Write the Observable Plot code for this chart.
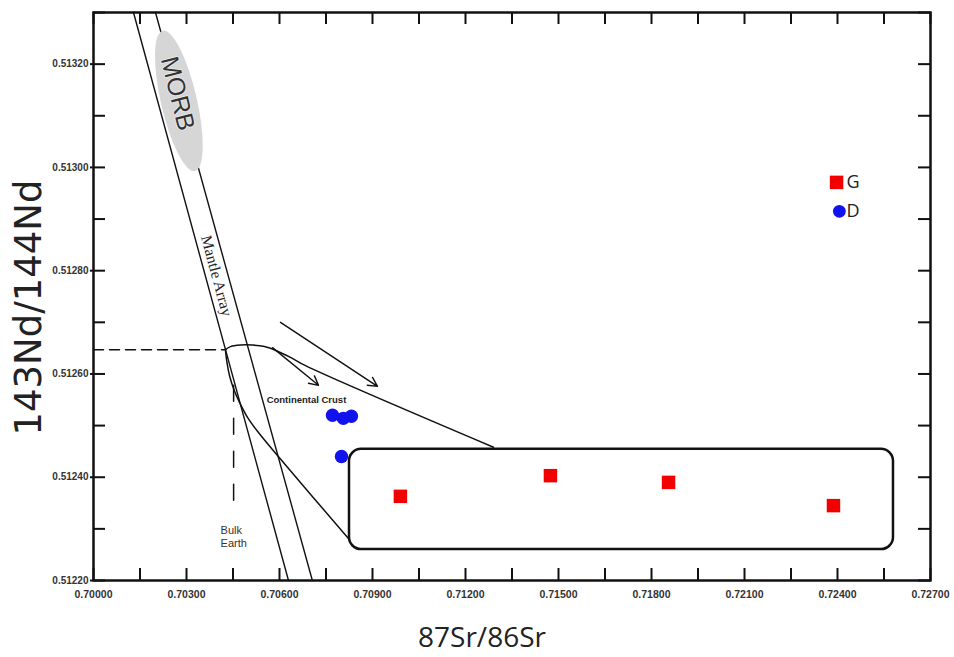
<!DOCTYPE html>
<html>
<head>
<meta charset="utf-8">
<script src="https://cdn.jsdelivr.net/npm/d3@7"></script>
<script src="https://cdn.jsdelivr.net/npm/@observablehq/plot@0.6"></script>
<style>
  html, body { margin: 0; padding: 0; background: #fff; }
  #chart { width: 954px; height: 657px; }
</style>
</head>
<body>
<div id="chart"></div>
<script>
// ---- Data ----
// G samples (red squares): 87Sr/86Sr and 143Nd/144Nd
const gSr = [0.70990, 0.71474, 0.71855, 0.72387];
const gNd = [0.512363, 0.512403, 0.512390, 0.512345];
// D samples (blue circles)
const dSr = [0.70771, 0.70806, 0.70832, 0.70800];
const dNd = [0.512520, 0.512514, 0.512518, 0.512440];

// Tick values
const xTicksLabeled = [0.700, 0.703, 0.706, 0.709, 0.712, 0.715, 0.718, 0.721, 0.724, 0.727];
const xTicksMinor = [0.7015, 0.7045, 0.7075, 0.7105, 0.7135, 0.7165, 0.7195, 0.7225, 0.7255];
const yTicksLabeled = [0.5122, 0.5124, 0.5126, 0.5128, 0.5130, 0.5132];
const yTicksMinor = [0.5123, 0.5125, 0.5127, 0.5129, 0.5131, 0.5133];

// Diagram annotations (data coordinates)
const mantleLeftSr = [0.70129, 0.70629];
const mantleLeftNd = [0.5133, 0.5122];
const mantleRightSr = [0.70200, 0.70706];
const mantleRightNd = [0.5133, 0.5122];
const morbCenter = [0.70277, 0.513128];
const morbLabelPos = [0.70271, 0.513143];
const mantleLabelPos = [0.70397, 0.512790];
const bulkEarthNdLineSr = [0.7000, 0.70426];
const bulkEarthNdLineNd = [0.512647, 0.512647];
const bulkEarthSrLineSr = [0.70452, 0.70452];
const bulkEarthSrLineNd = [0.512578, 0.51233];
const upperSr = [0.704258, 0.704419, 0.704742, 0.705129, 0.705516, 0.705903, 0.706355, 0.706839, 0.712903];
const upperNd = [0.512647, 0.512653, 0.512656, 0.512656, 0.512653, 0.512645, 0.512632, 0.512616, 0.512458];
const lowerSr = [0.704258, 0.704306, 0.704387, 0.704516, 0.704710, 0.704968, 0.705290, 0.705935, 0.708258];
const lowerNd = [0.512645, 0.512622, 0.512597, 0.512572, 0.512545, 0.512516, 0.512489, 0.512442, 0.512279];
const arrowSr1 = [0.705774, 0.706032];
const arrowNd1 = [0.512651, 0.512700];
const arrowSr2 = [0.707258, 0.709161];
const arrowNd2 = [0.512578, 0.512576];
const boxSr = [0.708258, 0.725806];
const boxNd = [0.512260, 0.512454];
const crustLabelPos = [0.70687, 0.512549];
const bulkLabelPos = [0.7041, 0.512308];
const legendNames = ["G", "D"];
const legendSr = [0.72397, 0.72406];
const legendNd = [0.512971, 0.512915];
const legendTextSr = 0.72429;

// ---- Build tables ----
const pairs = (xs, ys) => xs.map((x, i) => [x, ys[i]]);
const gPts = pairs(gSr, gNd);
const dPts = pairs(dSr, dNd);
const arrows = arrowSr1.map((s, i) => ({x1: s, y1: arrowNd1[i], x2: arrowSr2[i], y2: arrowNd2[i]}));

const W = 954, H = 657, mt = 12, mr = 24, mb = 77, ml = 93;
const pw = W - ml - mr, ph = H - mt - mb;
const ink = "#111";

const morbEllipse = (index, scales) => {
  const cx = scales.x(morbCenter[0]), cy = scales.y(morbCenter[1]);
  return d3.create("svg:ellipse")
    .attr("cx", cx).attr("cy", cy)
    .attr("rx", 18).attr("ry", 72)
    .attr("transform", `rotate(-13 ${cx} ${cy})`)
    .attr("fill", "#d6d6d6")
    .node();
};

const chart = Plot.plot({
  width: W, height: H,
  marginTop: mt, marginRight: mr, marginBottom: mb, marginLeft: ml,
  x: {domain: [0.700, 0.727]},
  y: {domain: [0.5122, 0.5133]},
  style: {fontFamily: "'Liberation Sans', Arial, sans-serif", background: "#fff", overflow: "visible"},
  marks: [
    // Mantle array
    Plot.line(pairs(mantleLeftSr, mantleLeftNd), {stroke: ink, strokeWidth: 1.4}),
    Plot.line(pairs(mantleRightSr, mantleRightNd), {stroke: ink, strokeWidth: 1.4}),
    morbEllipse,
    Plot.text(["MORB"], {x: morbLabelPos[0], y: morbLabelPos[1], text: d => d, rotate: 76, fontSize: 25, fill: "#333", stroke: "#eee", strokeWidth: 1.5, paintOrder: "stroke"}),
    Plot.text(["Mantle Array"], {x: mantleLabelPos[0], y: mantleLabelPos[1], text: d => d, rotate: 75, fontSize: 15.5, fontFamily: "'Liberation Serif', 'DejaVu Serif', serif", fill: "#222"}),
    // Bulk Earth dashed lines
    Plot.line(pairs(bulkEarthNdLineSr, bulkEarthNdLineNd), {stroke: ink, strokeWidth: 1.5, strokeDasharray: "10,6"}),
    Plot.line(pairs(bulkEarthSrLineSr, bulkEarthSrLineNd), {stroke: ink, strokeWidth: 1.5, strokeDasharray: "16,17"}),
    // Continental crust field
    Plot.line(pairs(upperSr, upperNd), {stroke: ink, strokeWidth: 1.5, curve: "catmull-rom"}),
    Plot.line(pairs(lowerSr, lowerNd), {stroke: ink, strokeWidth: 1.5, curve: "catmull-rom"}),
    Plot.arrow(arrows, {x1: "x1", y1: "y1", x2: "x2", y2: "y2", stroke: ink, strokeWidth: 1.4, headLength: 11, headAngle: 55}),
    Plot.text(["Continental Crust"], {x: crustLabelPos[0], y: crustLabelPos[1], text: d => d, fontSize: 9.5, fontWeight: "bold", fill: "#222"}),
    Plot.text(["Bulk\nEarth"], {x: bulkLabelPos[0], y: bulkLabelPos[1], text: d => d, textAnchor: "start", lineAnchor: "top", fontSize: 11, lineHeight: 1.2, fill: "#333"}),
    // Box around G samples
    Plot.rect([0], {x1: boxSr[0], x2: boxSr[1], y1: boxNd[0], y2: boxNd[1], rx: 12, fill: "none", stroke: ink, strokeWidth: 2.5}),
    // Samples
    Plot.dot(dPts, {symbol: "circle", r: 6.7, fill: "#1212ee"}),
    Plot.dot(gPts, {symbol: "square", r: 7.6, fill: "#f20000"}),
    // Legend
    Plot.dot([0], {x: legendSr[0], y: legendNd[0], symbol: "square", r: 7.6, fill: "#f20000"}),
    Plot.dot([0], {x: legendSr[1], y: legendNd[1], symbol: "circle", r: 6.4, fill: "#1212ee"}),
    Plot.text(legendNames, {x: legendTextSr, y: (d, i) => legendNd[i], text: d => d, textAnchor: "start", fontSize: 18, fontFamily: "'Open Sans', sans-serif", fill: "#222"}),
    // Ticks (inward)
    Plot.ruleX(xTicksLabeled.concat(xTicksMinor), {x: d => d, insetTop: ph - 12, stroke: ink, strokeWidth: 2}),
    Plot.ruleX(xTicksLabeled.concat(xTicksMinor), {x: d => d, insetBottom: ph - 12, stroke: ink, strokeWidth: 2}),
    Plot.ruleY(yTicksMinor, {y: d => d, insetRight: pw - 12, stroke: ink, strokeWidth: 2}),
    Plot.ruleY(yTicksLabeled, {y: d => d, insetLeft: -3, insetRight: pw - 12, stroke: ink, strokeWidth: 2}),
    Plot.ruleY(yTicksLabeled.concat(yTicksMinor), {y: d => d, insetLeft: pw - 12, stroke: ink, strokeWidth: 2}),
    Plot.frame({stroke: ink, strokeWidth: 2.5}),
    // Axes tick labels
    Plot.axisX(xTicksLabeled, {tickSize: 0, tickPadding: 10, tickFormat: d => d.toFixed(5), fontSize: 10.5, fontWeight: "bold", color: "#333", label: null}),
    Plot.axisY(yTicksLabeled, {tickSize: 0, tickPadding: 5, tickFormat: d => d.toFixed(5), fontSize: 10, fontWeight: "bold", color: "#333", label: null}),
    // Axis titles
    Plot.text(["143Nd/144Nd"], {frameAnchor: "left", text: d => d, textAnchor: "middle", lineAnchor: "middle", dx: -64, dy: 11, rotate: -90, fontSize: 37, fontFamily: "'DejaVu Sans', Verdana, sans-serif", fill: "#222"}),
    Plot.text(["87Sr/86Sr"], {frameAnchor: "bottom", text: d => d, textAnchor: "middle", lineAnchor: "middle", dx: -30, dy: 58, fontSize: 28, fontFamily: "'Open Sans', sans-serif", fill: "#222"})
  ]
});
document.getElementById("chart").appendChild(chart);
</script>
</body>
</html>
